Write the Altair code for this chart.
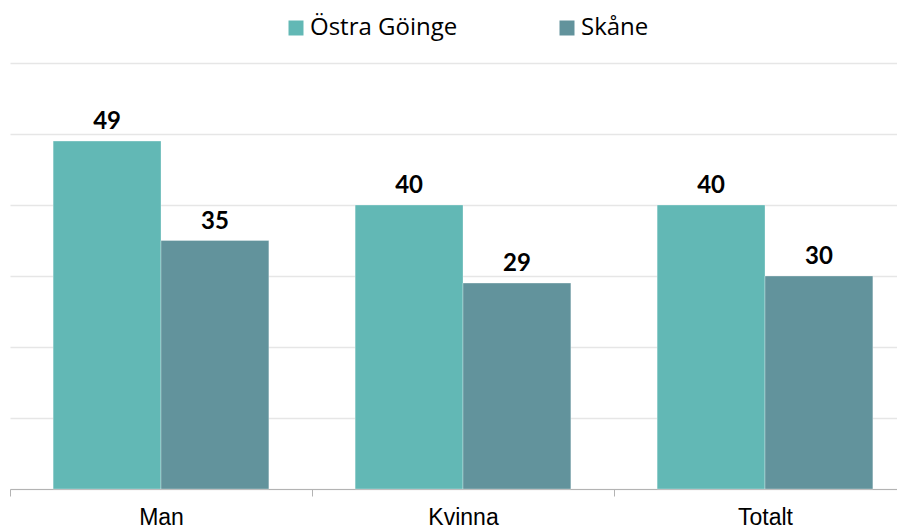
import altair as alt
import pandas as pd

categories = ["Man", "Kvinna", "Totalt"]
series = ["Östra Göinge", "Skåne"]
ostra = [49, 40, 40]
skane = [35, 29, 30]
colors = ["#62B8B5", "#62939C"]

rows = []
for c, a, b in zip(categories, ostra, skane):
    rows.append({"kat": c, "serie": series[0], "v": a})
    rows.append({"kat": c, "serie": series[1], "v": b})
df = pd.DataFrame(rows)

x = alt.X(
    "kat:N", sort=categories, title=None,
    scale=alt.Scale(paddingInner=0, paddingOuter=0, range=[0, 906]),
    axis=alt.Axis(labelAngle=0, labelFont="Liberation Sans", labelFontSize=23,
                  labelColor="#000000", domainColor="#b3b3b3", tickColor="#b3b3b3",
                  tickSize=7, tickBand="extent", labelPadding=10, grid=False),
)
xo = alt.XOffset("serie:N", sort=series,
                 scale=alt.Scale(paddingInner=0, paddingOuter=0.4))
y = alt.Y("v:Q", title=None,
          scale=alt.Scale(domain=[0, 60], nice=False),
          axis=alt.Axis(values=[0, 10, 20, 30, 40, 50, 60], labels=False, ticks=False,
                        domain=False, grid=True, gridColor="#e6e6e6", gridWidth=1.5))
color = alt.Color(
    "serie:N", sort=series,
    scale=alt.Scale(domain=series, range=colors),
    legend=alt.Legend(orient="none", legendX=274, legendY=-47, direction="horizontal",
                      title=None, symbolType="square", symbolSize=225, symbolStrokeWidth=0,
                      labelFont="Open Sans", labelFontSize=24, labelColor="#000000",
                      columnPadding=97, labelOffset=2),
)

base = alt.Chart(df).encode(x=x, xOffset=xo)
bars = base.mark_bar(stroke="#ffffff", strokeWidth=0.5, strokeOpacity=0.6).encode(y=y, color=color)
labels = base.mark_text(font="Lato", fontWeight="bold", fontSize=24, color="#000000",
                        baseline="alphabetic", dy=-12).encode(y="v:Q", text="v:Q")

chart = (bars + labels).properties(
    width=887, height=426,
    autosize=alt.AutoSizeParams(type="none"),
    padding={"left": 2, "top": 55, "right": 0, "bottom": 43},
).configure_view(stroke=None)

chart.save("out.html", embed_options={"renderer": "svg", "actions": False})
